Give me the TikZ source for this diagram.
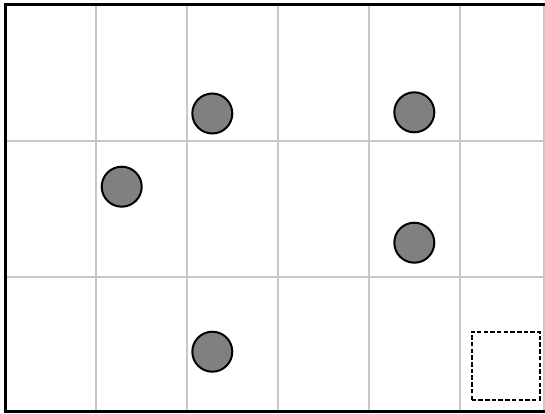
\documentclass[tikz,border=0pt]{standalone}
\begin{document}
\begin{tikzpicture}[x=1pt,y=-1pt,
  gridline/.style={draw={rgb,255:red,200;green,200;blue,200},line width=2pt},
  frameline/.style={draw=black,line width=3pt},
  token/.style={circle,draw=black,line width=2pt,fill={rgb,255:red,128;green,128;blue,128},minimum size=40pt,inner sep=0pt},
  target/.style={draw=black,line width=2pt,dash pattern=on 4.5pt off 2.2pt,minimum size=68pt,inner sep=0pt}]
\useasboundingbox (0,0) rectangle (545,414);
\fill[white] (0,0) rectangle (545,414);
% grid
\foreach \x in {96.3,187.3,278,368.5,460,543.5}
  \draw[gridline] (\x,4) -- (\x,410);
\foreach \y in {140.7,276.7}
  \draw[gridline] (5,\y) -- (545,\y);
% frame
\draw[frameline] (545,4.2) -- (5.5,4.2) -- (5.5,411.5) -- (545,411.5);
% tokens
\node[token] (c1) at (212.3,113.5) {};
\node[token] (c2) at (414.3,112.3) {};
\node[token] (c3) at (121.7,186.7) {};
\node[token] (c4) at (414.3,242.7) {};
\node[token] (c5) at (212.3,351.7) {};
% target
\node[target] (t) at (505.6,365.5) {};
\end{tikzpicture}
\end{document}
